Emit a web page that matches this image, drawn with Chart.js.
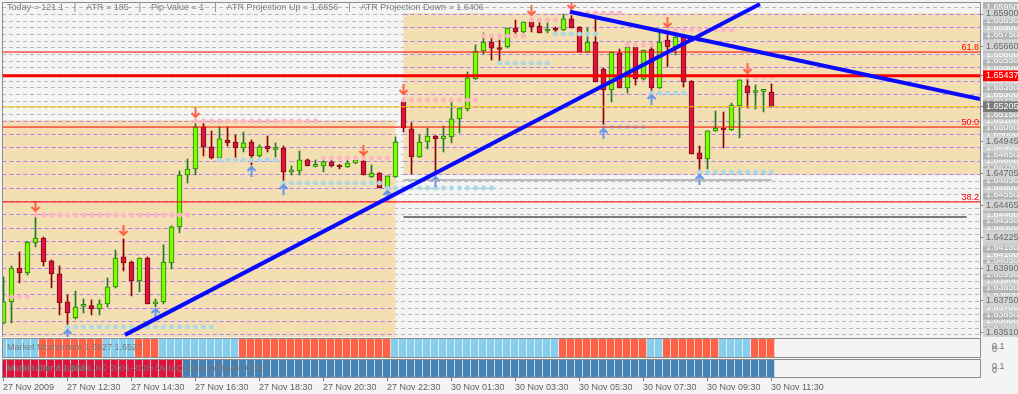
<!DOCTYPE html>
<html>
<head>
<meta charset="utf-8">
<script src="https://cdn.jsdelivr.net/npm/chart.js@4.4.0/dist/chart.umd.min.js"></script>
<style>
  html, body { margin: 0; padding: 0; background: #f4f4f4; }
  #wrap { position: relative; width: 1018px; height: 394px; overflow: hidden; }
  canvas { position: absolute; left: 0; }
</style>
</head>
<body>
<div id="wrap">
  <canvas id="main" width="1018" height="338" style="top:0"></canvas>
  <canvas id="mom" width="1018" height="22" style="top:337px"></canvas>
  <canvas id="trend" width="1018" height="36" style="top:358px"></canvas>
</div>
<script>
// 15 minute bars, 27 Nov 10:30 .. 30 Nov 11:30
const opens = [
  1.63585, 1.63743, 1.63997, 1.63960, 1.64185, 1.64222, 1.64050, 1.63953, 1.63743, 1.63623,
  1.63710, 1.63715, 1.63690, 1.63728, 1.63855, 1.64080, 1.64042, 1.63900, 1.64072, 1.63728,
  1.63743, 1.64035, 1.64305, 1.64694, 1.64739, 1.65054, 1.64904, 1.64822, 1.64956, 1.64941,
  1.64896, 1.64941, 1.64836, 1.64911, 1.64885, 1.64896, 1.64717, 1.64724, 1.64807, 1.64758,
  1.64762, 1.64792, 1.64769, 1.64754, 1.64784, 1.64799, 1.64679, 1.64709, 1.64604, 1.64679,
  1.65241, 1.65039, 1.64829, 1.64941, 1.64986, 1.64964, 1.64979, 1.65114, 1.65188, 1.65413,
  1.65623, 1.65690, 1.65638, 1.65653, 1.65795, 1.65765, 1.65840, 1.65810, 1.65773, 1.65784,
  1.65780, 1.65863, 1.65803, 1.65615, 1.65690, 1.65488, 1.65331, 1.65608, 1.65346, 1.65653,
  1.65413, 1.65638, 1.65346, 1.65705, 1.65653, 1.65728, 1.65398, 1.64859, 1.64814, 1.65024,
  1.65039, 1.65031, 1.65211, 1.65361, 1.65312, 1.65320, 1.65316
];
const highs = [
  1.63930, 1.64012, 1.64117, 1.64197, 1.64395, 1.64230, 1.64057, 1.64012, 1.63795, 1.63825,
  1.63765, 1.63758, 1.63758, 1.63923, 1.64132, 1.64215, 1.64050, 1.64072, 1.64080, 1.63765,
  1.64170, 1.64312, 1.64724, 1.64814, 1.65099, 1.65091, 1.65024, 1.65054, 1.65054, 1.64994,
  1.65016, 1.64956, 1.64919, 1.64986, 1.64934, 1.64911, 1.64762, 1.64874, 1.64814, 1.64807,
  1.64822, 1.64822, 1.64772, 1.64807, 1.64807, 1.64814, 1.64769, 1.64712, 1.64687, 1.64979,
  1.65271, 1.65084, 1.64994, 1.65046, 1.64990, 1.65061, 1.65256, 1.65196, 1.65466, 1.65668,
  1.65758, 1.65728, 1.65705, 1.65795, 1.65855, 1.65840, 1.65863, 1.65840, 1.65833, 1.65803,
  1.65900, 1.65907, 1.65806, 1.65795, 1.65870, 1.65496, 1.65615, 1.65638, 1.65683, 1.65660,
  1.65630, 1.65683, 1.65758, 1.65773, 1.65758, 1.65731, 1.65401, 1.64911, 1.65024, 1.65173,
  1.65166, 1.65233, 1.65406, 1.65428, 1.65368, 1.65323, 1.65376
];
const lows = [
  1.63578, 1.63585, 1.63885, 1.63945, 1.64155, 1.64012, 1.63848, 1.63645, 1.63548, 1.63615,
  1.63660, 1.63645, 1.63645, 1.63705, 1.63848, 1.63975, 1.63788, 1.63818, 1.63728, 1.63705,
  1.63728, 1.63990, 1.64260, 1.64634, 1.64694, 1.64836, 1.64814, 1.64799, 1.64911, 1.64822,
  1.64866, 1.64769, 1.64829, 1.64866, 1.64829, 1.64634, 1.64694, 1.64694, 1.64762, 1.64754,
  1.64717, 1.64754, 1.64739, 1.64750, 1.64777, 1.64694, 1.64675, 1.64597, 1.64589, 1.64675,
  1.65016, 1.64702, 1.64825, 1.64889, 1.64694, 1.64866, 1.64934, 1.65009, 1.65173, 1.65410,
  1.65600, 1.65555, 1.65533, 1.65645, 1.65728, 1.65758, 1.65765, 1.65758, 1.65758, 1.65750,
  1.65776, 1.65795, 1.65615, 1.65612, 1.65391, 1.65054, 1.65241, 1.65346, 1.65308, 1.65368,
  1.65406, 1.65308, 1.65342, 1.65503, 1.65593, 1.65353, 1.64851, 1.64709, 1.64739, 1.65020,
  1.64896, 1.65027, 1.64971, 1.65196, 1.65188, 1.65166, 1.65203
];
const closes = [
  1.63743, 1.63997, 1.63960, 1.64192, 1.64222, 1.64042, 1.63953, 1.63735, 1.63660, 1.63705,
  1.63716, 1.63690, 1.63728, 1.63855, 1.64072, 1.64035, 1.63900, 1.64072, 1.63728, 1.63743,
  1.64042, 1.64305, 1.64694, 1.64739, 1.65054, 1.64904, 1.64822, 1.64964, 1.64934, 1.64896,
  1.64934, 1.64836, 1.64904, 1.64889, 1.64893, 1.64717, 1.64732, 1.64807, 1.64762, 1.64765,
  1.64792, 1.64762, 1.64754, 1.64784, 1.64807, 1.64694, 1.64709, 1.64597, 1.64687, 1.64941,
  1.65046, 1.64829, 1.64941, 1.64986, 1.64964, 1.64986, 1.65114, 1.65196, 1.65421, 1.65623,
  1.65690, 1.65645, 1.65634, 1.65795, 1.65765, 1.65840, 1.65803, 1.65758, 1.65784, 1.65778,
  1.65863, 1.65795, 1.65615, 1.65690, 1.65391, 1.65331, 1.65615, 1.65346, 1.65653, 1.65413,
  1.65630, 1.65346, 1.65690, 1.65653, 1.65728, 1.65391, 1.64851, 1.64814, 1.65024, 1.65046,
  1.65031, 1.65218, 1.65406, 1.65308, 1.65320, 1.65327, 1.65205
];

// time axis: one label every 8 bars
const timeTicks = [0, 8, 16, 24, 32, 40, 48, 56, 64, 72, 80, 88, 96];
const timeLabels = ['27 Nov 2009', '27 Nov 12:30', '27 Nov 14:30', '27 Nov 16:30', '27 Nov 18:30',
  '27 Nov 20:30', '27 Nov 22:30', '30 Nov 01:30', '30 Nov 03:30', '30 Nov 05:30',
  '30 Nov 07:30', '30 Nov 09:30', '30 Nov 11:30'];

// fractal levels [fromBar, toBar, price]
const resistance = [[1, 3, 1.63780], [4, 23, 1.64395], [24, 39, 1.65099], [40, 48, 1.64822],
  [50, 59, 1.65256], [60, 65, 1.65735], [66, 69, 1.65855], [71, 77, 1.65907],
  [78, 81, 1.65668], [83, 91, 1.65780], [93, 96, 1.65428]];
const support = [[8, 26, 1.63555], [27, 34, 1.64807], [35, 47, 1.64634], [48, 61, 1.64597],
  [62, 68, 1.65533], [69, 74, 1.65750], [75, 80, 1.65054], [81, 85, 1.65308], [87, 96, 1.64717]];
const downArrows = [4, 15, 24, 45, 50, 66, 71, 83, 93];
const upArrows = [8, 19, 31, 35, 48, 54, 75, 81, 87];

// objects
const trendUp = [[15.19, 1.63496], [94.56, 1.65975]];
const trendDown = [[70.81, 1.65917], [122.06, 1.65262]];
const fibLevels = [1.65615, 1.65053, 1.64492];
const fibNames = ['61.8', '50.0', '38.2'];
const lineLevel = 1.65437;
const bidLevel = 1.65205;
const blackLine = [50, 120.4, 1.64379];
const grayLine = [50, 96, 1.64657];
// session boxes [fromBar, toBar, low, high]
const sessionBoxes = [[-1, 49, 1.63400, 1.65105], [50, 130, 1.64694, 1.65907]];

// price scale labels
const mainTicks = [1.63510, 1.63750, 1.63990, 1.64225, 1.64465, 1.64705, 1.64945, 1.65660, 1.65900];

// sub windows: runs of [bars, state]
const momentumRuns = [[5, 1], [8, -1], [4, 1], [3, -1], [10, 1], [19, -1], [21, 1], [11, -1], [2, 1], [7, -1], [4, 1], [3, -1]];
const trendRuns = [[23, -1], [74, 1]];

const infoItems = ['Today = 121.1', 'ATR = 185', 'Pip Value = 1', 'ATR Projection Up = 1.6656', 'ATR Projection Down = 1.6406'];

const Y_MIN = 1.63480, Y_MAX = 1.65990;
const X_MIN = -0.1875, X_MAX = 122.0625;
const FONT = '"Liberation Sans", Arial, sans-serif';

Chart.defaults.font.family = FONT;
Chart.defaults.font.size = 9;

const gridLevels = [];
for (let k = 16350; k <= 16595; k += 5) gridLevels.push(k / 10000);

const isUp = (i) => closes[i] >= opens[i];

// axis boxes keep a fixed size and take no label overhang
const fixWidth = (w) => (s) => { s.width = w; s.paddingTop = 0; s.paddingBottom = 0; };
const fixHeight = (h) => (s) => { s.height = h; s.paddingLeft = 0; s.paddingRight = 0; };

function levelPoints(levels) {
  const pts = [];
  levels.forEach(([a, b, p]) => {
    for (let i = a; i <= b; i++) pts.push({ x: i, y: p });
  });
  return pts;
}

function expandRuns(runs) {
  const out = [];
  runs.forEach(([n, s]) => { for (let k = 0; k < n; k++) out.push(s); });
  return out;
}

function makeArrow(color, down) {
  const c = document.createElement('canvas');
  c.width = 11; c.height = 34;
  const g = c.getContext('2d');
  g.strokeStyle = color;
  g.lineWidth = 2;
  const top = down ? 3 : 19, bot = down ? 13 : 29;
  g.beginPath();
  g.moveTo(5.5, top); g.lineTo(5.5, bot);
  if (down) { g.moveTo(1.5, bot - 4); g.lineTo(5.5, bot); g.lineTo(9.5, bot - 4); }
  else { g.moveTo(1.5, top + 4); g.lineTo(5.5, top); g.lineTo(9.5, top + 4); }
  g.stroke();
  return c;
}

const hSeg = (x0, x1, p) => [{ x: x0, y: p }, { x: x1, y: p }];
const lineSet = (data, color, width, order) => ({
  type: 'line', data, borderColor: color, borderWidth: width, pointRadius: 0, fill: false, order
});

const mtPlugin = {
  id: 'mt',
  beforeDraw(chart) {
    const { ctx, chartArea: a, scales: { x, y } } = chart;
    ctx.save();
    ctx.fillStyle = '#f4f4f4';
    ctx.fillRect(0, 0, chart.width, chart.height);
    ctx.beginPath();
    ctx.rect(a.left, a.top, a.right - a.left, a.bottom - a.top);
    ctx.clip();
    ctx.lineWidth = 1;
    ctx.setLineDash([4, 3]);
    const hline = (v, color, x0, x1) => {
      const py = Math.round(y.getPixelForValue(v)) + 0.5;
      ctx.strokeStyle = color;
      ctx.beginPath(); ctx.moveTo(x0, py); ctx.lineTo(x1, py); ctx.stroke();
    };
    gridLevels.forEach(v => hline(v, '#b9b9b9', a.left, a.right));
    sessionBoxes.forEach(([from, to, low, high]) => {
      const x0 = x.getPixelForValue(from), x1 = x.getPixelForValue(to);
      const y0 = y.getPixelForValue(high), y1 = y.getPixelForValue(low);
      ctx.fillStyle = '#f5deb3';
      ctx.fillRect(x0, y0, x1 - x0, y1 - y0);
      gridLevels.forEach((v, k) => {
        if (v > high || v < low) return;
        hline(v, k % 2 ? '#d4ee96' : '#a683f2', x0, x1);
      });
    });
    ctx.restore();
  },
  afterDatasetsDraw(chart) {
    const { ctx, chartArea: a, scales: { y } } = chart;
    ctx.save();
    ctx.font = '9px ' + FONT;
    ctx.fillStyle = '#ff0000';
    ctx.textAlign = 'right';
    ctx.textBaseline = 'alphabetic';
    fibLevels.forEach((v, k) => ctx.fillText(fibNames[k], a.right - 1, y.getPixelForValue(v) - 2));
    ctx.restore();
  },
  afterDraw(chart) {
    const { ctx, chartArea: a } = chart;
    ctx.save();
    ctx.strokeStyle = '#8c8c8c';
    ctx.lineWidth = 1;
    ctx.strokeRect(a.left + 0.5, a.top + 0.5, a.right - a.left, a.bottom - a.top);
    ctx.font = '9px ' + FONT;
    ctx.fillStyle = '#7f7f7f';
    ctx.textBaseline = 'middle';
    ctx.fillText(infoItems.join('    |    '), 7, 8);
    ctx.restore();
  }
};

const tickColor = { f: '#ffffff', m: '#6a6a6a', r: '#ffffff', b: '#ffffff' };

new Chart(document.getElementById('main'), {
  type: 'bar',
  data: {
    datasets: [
      lineSet(trendUp.map(([x, y]) => ({ x, y })), '#0a0aff', 4, 0),
      lineSet(trendDown.map(([x, y]) => ({ x, y })), '#0a0aff', 4, 0),
      lineSet(hSeg(X_MIN, X_MAX, lineLevel), '#ff0000', 3, 1),
      ...fibLevels.map(v => lineSet(hSeg(X_MIN, X_MAX, v), '#ff0000', 1, 1)),
      lineSet(hSeg(X_MIN, X_MAX, bidLevel), '#eec900', 1, 1),
      lineSet(hSeg(blackLine[0], blackLine[1], blackLine[2]), '#000000', 1, 1),
      lineSet(hSeg(grayLine[0], grayLine[1], grayLine[2]), '#a9a9a9', 1.5, 1),
      {
        type: 'line', showLine: false, order: 2,
        data: downArrows.map(i => ({ x: i, y: highs[i] })),
        pointStyle: makeArrow('#ff6347', true), pointRadius: 6
      },
      {
        type: 'line', showLine: false, order: 2,
        data: upArrows.map(i => ({ x: i, y: lows[i] })),
        pointStyle: makeArrow('#6495ed', false), pointRadius: 6
      },
      {
        type: 'line', showLine: false, order: 3, data: levelPoints(resistance),
        pointRadius: 2.5, pointBorderWidth: 0, pointBackgroundColor: '#ffb6c1'
      },
      {
        type: 'line', showLine: false, order: 3, data: levelPoints(support),
        pointRadius: 2.5, pointBorderWidth: 0, pointBackgroundColor: '#add8e6'
      },
      {
        type: 'bar', order: 4, grouped: false, barThickness: 5, minBarLength: 2,
        data: opens.map((o, i) => ({ x: i, y: [o, closes[i]] })),
        backgroundColor: c => isUp(c.dataIndex) ? '#7cfc00' : '#dc143c',
        borderColor: c => isUp(c.dataIndex) ? '#2a7d12' : '#7a0a14',
        borderWidth: 1, borderSkipped: false
      },
      {
        type: 'bar', order: 5, grouped: false, barThickness: 1,
        data: lows.map((l, i) => ({ x: i, y: [l, highs[i]] })),
        backgroundColor: c => isUp(c.dataIndex) ? '#1e7b1e' : '#8b0000',
        borderWidth: 0
      }
    ]
  },
  options: {
    responsive: false, animation: false, devicePixelRatio: 1, events: [],
    layout: { autoPadding: false, padding: { left: 2, top: 2, right: 0, bottom: 1 } },
    plugins: { legend: { display: false }, tooltip: { enabled: false } },
    scales: {
      x: { type: 'linear', min: X_MIN, max: X_MAX, offset: false, grid: { offset: false }, display: false },
      y: {
        position: 'right', min: Y_MIN, max: Y_MAX,
        afterFit: fixWidth(38),
        afterBuildTicks: s => {
          s.ticks = gridLevels.map((v, k) => ({ value: v, kind: 'f', alt: k % 2 }))
            .concat(mainTicks.map(v => ({ value: v, kind: 'm' })))
            .concat([{ value: lineLevel, kind: 'r' }, { value: bidLevel, kind: 'b' }]);
        },
        border: { display: false },
        grid: {
          drawOnChartArea: false, tickLength: 4,
          color: c => (c.tick && c.tick.kind === 'f') ? 'rgba(0,0,0,0)' : '#808080'
        },
        ticks: {
          autoSkip: false, padding: 2,
          callback: v => v.toFixed(5),
          color: c => tickColor[c.tick.kind],
          showLabelBackdrop: true,
          backdropPadding: { left: 3, right: 6, top: 0, bottom: 0 },
          backdropColor: c => {
            const t = c.tick;
            if (t.kind === 'r') return '#ff0000';
            if (t.kind === 'b') return '#7a7a7a';
            if (t.kind === 'm') return '#d2d2d2';
            return t.alt ? '#b4b4b4' : '#cdcdcd';
          }
        }
      }
    }
  },
  plugins: [mtPlugin]
});

function panelPlugin(captions) {
  return {
    id: 'panel',
    beforeDraw(chart) {
      const { ctx } = chart;
      ctx.save();
      ctx.fillStyle = '#f4f4f4';
      ctx.fillRect(0, 0, chart.width, chart.height);
      ctx.restore();
    },
    afterDraw(chart) {
      const { ctx, chartArea: a } = chart;
      ctx.save();
      ctx.strokeStyle = '#8c8c8c';
      ctx.lineWidth = 1;
      ctx.strokeRect(a.left + 0.5, a.top + 0.5, a.right - a.left, a.bottom - a.top - 1);
      ctx.font = '9px ' + FONT;
      ctx.fillStyle = '#7a7a7a';
      ctx.textBaseline = 'middle';
      captions.forEach(t => ctx.fillText(t, 7, (a.top + a.bottom) / 2));
      ctx.restore();
    }
  };
}

function panelChart(id, runs, upColor, downColor, captions, withAxis) {
  const states = expandRuns(runs);
  const xAxis = {
    type: 'linear', min: -0.125, max: 122.125, offset: false, display: withAxis,
    border: { display: false },
    grid: { offset: false, drawOnChartArea: false, tickLength: 3, color: '#808080' },
    ticks: {
      autoSkip: false, maxRotation: 0, align: 'start', padding: 1, color: '#5f5f5f',
      callback: (v, i) => timeLabels[i]
    }
  };
  if (withAxis) {
    xAxis.afterFit = fixHeight(16);
    xAxis.afterBuildTicks = s => { s.ticks = timeTicks.map(v => ({ value: v })); };
  }
  return new Chart(document.getElementById(id), {
    type: 'bar',
    data: {
      datasets: [{
        data: states.map((s, i) => ({ x: i, y: 1 })),
        yAxisID: 'y', barThickness: 8,
        backgroundColor: c => states[c.dataIndex] > 0 ? upColor : downColor,
        borderColor: '#ffffff', borderWidth: { left: 0, right: 1, top: 0, bottom: 0 }, borderSkipped: false
      }]
    },
    options: {
      responsive: false, animation: false, devicePixelRatio: 1, events: [],
      layout: { autoPadding: false, padding: { left: 2, top: 1, right: 0, bottom: withAxis ? 0 : 1 } },
      plugins: { legend: { display: false }, tooltip: { enabled: false } },
      scales: {
        x: xAxis,
        y: { min: 0, max: 1, display: false },
        lab: {
          position: 'right', min: -0.25, max: 0.35,
          afterFit: fixWidth(38),
          afterBuildTicks: s => { s.ticks = [{ value: 0.1 }, { value: 0 }]; },
          border: { display: false },
          grid: { display: false },
          ticks: { autoSkip: false, padding: 4, color: '#707070', callback: v => v === 0 ? '0' : '0.1' }
        }
      }
    },
    plugins: [panelPlugin(captions)]
  });
}

panelChart('mom', momentumRuns, '#87ceeb', '#ff6347', ['Market Momentum 1.6527 1.6527'], false);
panelChart('trend', trendRuns, '#4682b4', '#dc143c',
  ['MetaTrader 4 Alpari UK\u00a9 2001-2009 MetaQuotes Software Corp.', 'Market Trend 1.6531'], true);
</script>
</body>
</html>
